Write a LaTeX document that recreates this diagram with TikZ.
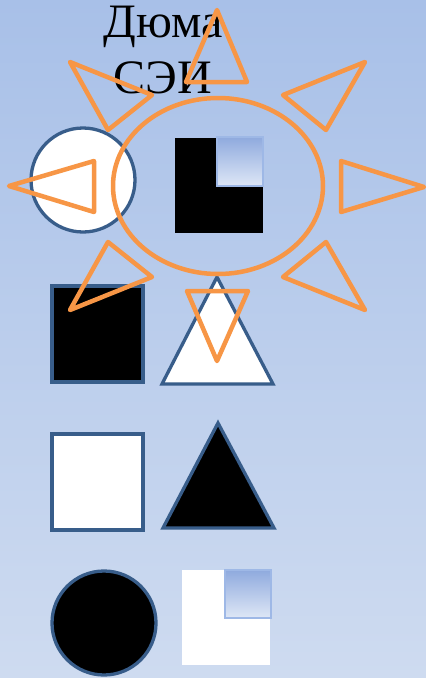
\documentclass[tikz,border=0pt]{standalone}
\usepackage{fontspec}
\setmainfont{Liberation Serif}
\usepackage{tikz}
\definecolor{SunOrange}{RGB}{247,150,70}
\definecolor{FigBlue}{RGB}{56,93,138}
\definecolor{BgTop}{RGB}{168,192,232}
\definecolor{BgBot}{RGB}{206,219,240}
\definecolor{GlassTop}{RGB}{143,170,222}
\definecolor{GlassBot}{RGB}{222,231,246}
\definecolor{GlassEdge}{RGB}{158,184,230}

\begin{document}
\begin{tikzpicture}[x=1pt,y=-1pt,
	ray/.style={draw=SunOrange,line width=4.5pt,line join=round},
	fig/.style={draw=FigBlue,line width=3.3pt},
	glass/.style={draw=GlassEdge,line width=1.5pt,top color=GlassTop,bottom color=GlassBot},
	ttl/.style={font=\fontsize{48}{56}\selectfont,inner sep=0pt,anchor=base}]
	\useasboundingbox (0,0) rectangle (426,678);
	\shade[top color=BgTop,bottom color=BgBot] (0,0) rectangle (426,678);
	%% title
	\node[ttl] (name) at (163,37) {Дюма};
	\node[ttl] (sei) at (163,93) {СЭИ};
	%% figures
	\draw[fig,fill=white] (83,180) circle [radius=52pt];
	\fill[black] (175,138) rectangle (263,233);
	\shade[glass] (217,137) rectangle (263,186);
	\draw[fig,fill=black] (52,286) rectangle (143,382);
	\draw[fig,fill=white] (217,277) -- (273,384) -- (162,384) -- cycle;
	\draw[fig,fill=white] (52,434) rectangle (143,530);
	\draw[fig,fill=black] (218,423) -- (274,528) -- (163,528) -- cycle;
	\draw[fig,fill=black] (104,623) circle [radius=52pt];
	\fill[white] (182,570) rectangle (270,665);
	\shade[glass] (225,570) rectangle (271,618);
	%% sun
	\draw[ray] (218,186) ellipse [x radius=105pt,y radius=88pt];
	\draw[ray] (217,10) -- (247,82) -- (186,82) -- cycle;
	\draw[ray] (217,361) -- (248,291) -- (187,291) -- cycle;
	\draw[ray] (9,186) -- (94,161) -- (94,212) -- cycle;
	\draw[ray] (424,187) -- (341,161) -- (341,212) -- cycle;
	\draw[ray] (70,62) -- (152,95) -- (108,130) -- cycle;
	\draw[ray] (365,62) -- (283,95) -- (326,130) -- cycle;
	\draw[ray] (70,310) -- (152,277) -- (108,242) -- cycle;
	\draw[ray] (365,310) -- (283,277) -- (326,242) -- cycle;
\end{tikzpicture}
\end{document}
